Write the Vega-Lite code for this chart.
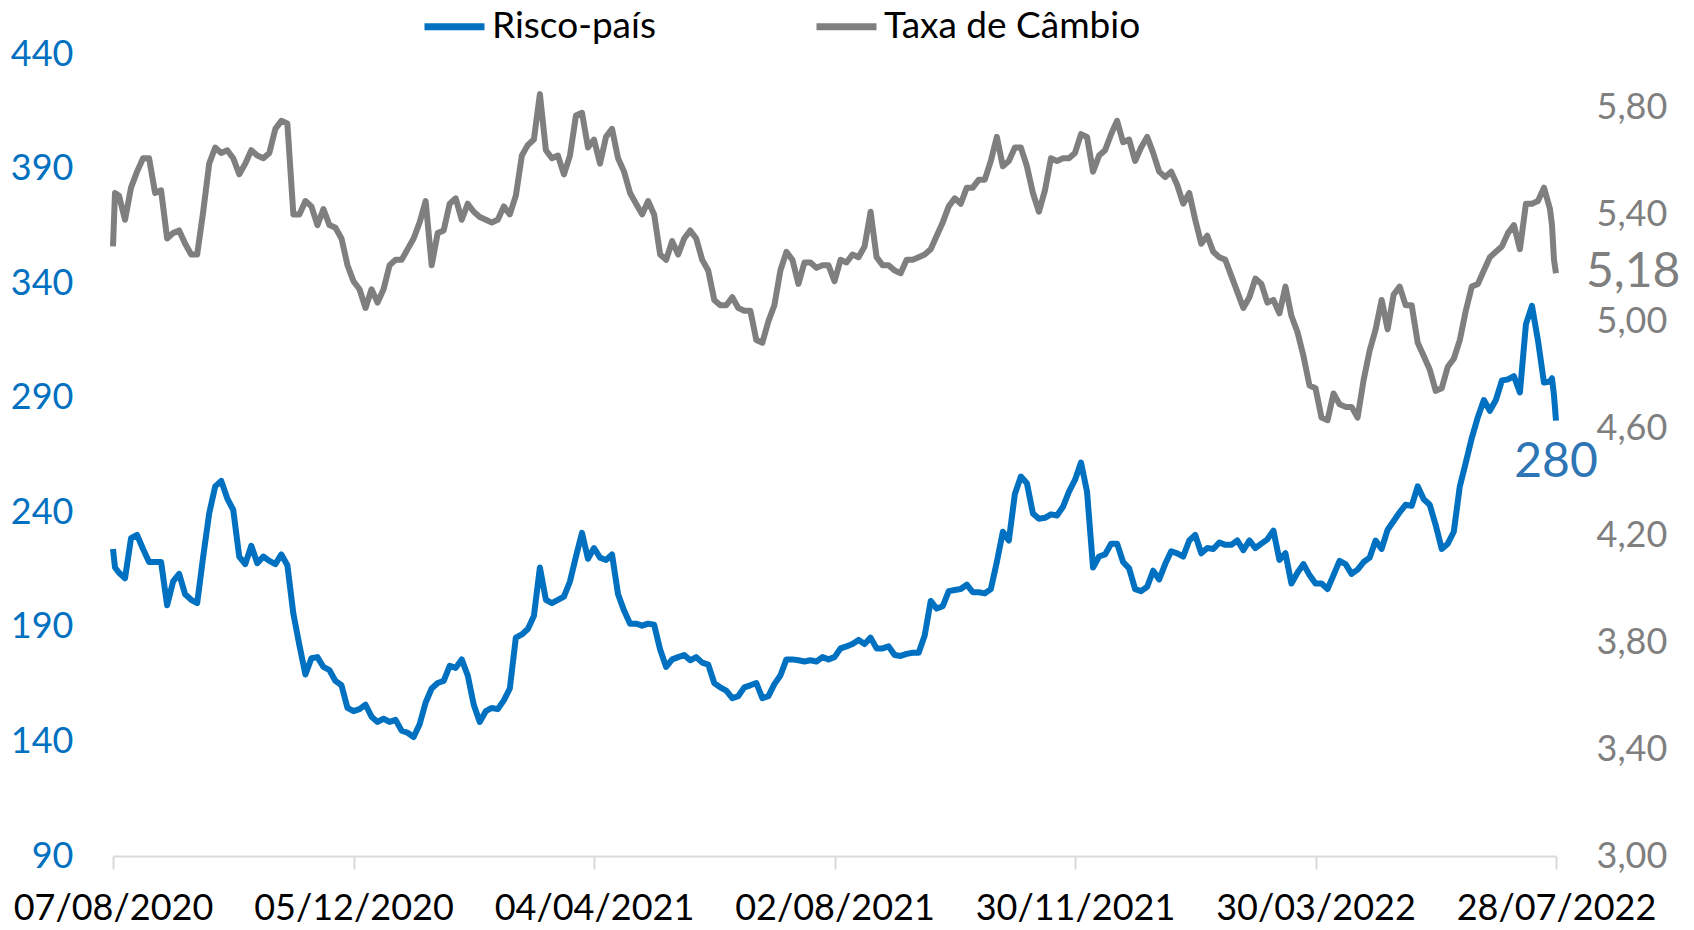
{
  "$schema": "https://vega.github.io/schema/vega-lite/v6.json",
  "width": 1443,
  "height": 802,
  "autosize": {"type": "none"},
  "padding": {"left": 113, "top": 54, "right": 138, "bottom": 74},
  "background": "white",
  "config": {
    "view": {"stroke": null},
    "font": "Lato",
    "locale": {"number": {"decimal": ",", "thousands": ".", "grouping": [3], "currency": ["R$", ""]}},
    "axis": {"grid": false, "title": null, "labelLimit": 0}
  },
  "data": {"values": [
    {"d":"2020-08-07","r":224.0,"c":5.28},
    {"d":"2020-08-08","r":215.9,"c":5.48},
    {"d":"2020-08-10","r":213.6,"c":5.47},
    {"d":"2020-08-13","r":211.2,"c":5.38},
    {"d":"2020-08-16","r":228.7,"c":5.50},
    {"d":"2020-08-19","r":230.1,"c":5.56},
    {"d":"2020-08-22","r":224.0,"c":5.61},
    {"d":"2020-08-25","r":218.3,"c":5.61},
    {"d":"2020-08-28","r":218.3,"c":5.48},
    {"d":"2020-08-31","r":218.3,"c":5.49},
    {"d":"2020-09-03","r":199.4,"c":5.31},
    {"d":"2020-09-06","r":209.8,"c":5.33},
    {"d":"2020-09-09","r":213.1,"c":5.34},
    {"d":"2020-09-12","r":204.2,"c":5.29},
    {"d":"2020-09-15","r":201.8,"c":5.25},
    {"d":"2020-09-18","r":200.4,"c":5.25},
    {"d":"2020-09-21","r":220.7,"c":5.41},
    {"d":"2020-09-24","r":239.5,"c":5.59},
    {"d":"2020-09-27","r":251.3,"c":5.65},
    {"d":"2020-09-30","r":253.7,"c":5.63},
    {"d":"2020-10-03","r":246.1,"c":5.64},
    {"d":"2020-10-06","r":241.0,"c":5.61},
    {"d":"2020-10-09","r":220.7,"c":5.55},
    {"d":"2020-10-12","r":217.4,"c":5.59},
    {"d":"2020-10-15","r":225.4,"c":5.64},
    {"d":"2020-10-18","r":217.8,"c":5.62},
    {"d":"2020-10-21","r":220.7,"c":5.61},
    {"d":"2020-10-24","r":218.8,"c":5.63},
    {"d":"2020-10-27","r":217.4,"c":5.72},
    {"d":"2020-10-30","r":221.6,"c":5.75},
    {"d":"2020-11-02","r":216.9,"c":5.74},
    {"d":"2020-11-05","r":195.7,"c":5.40},
    {"d":"2020-11-08","r":182.0,"c":5.40},
    {"d":"2020-11-11","r":169.2,"c":5.45},
    {"d":"2020-11-14","r":176.3,"c":5.43},
    {"d":"2020-11-17","r":176.8,"c":5.36},
    {"d":"2020-11-20","r":172.5,"c":5.42},
    {"d":"2020-11-23","r":171.1,"c":5.36},
    {"d":"2020-11-26","r":166.4,"c":5.35},
    {"d":"2020-11-29","r":164.5,"c":5.31},
    {"d":"2020-12-02","r":154.6,"c":5.21},
    {"d":"2020-12-05","r":153.2,"c":5.15},
    {"d":"2020-12-08","r":154.1,"c":5.12},
    {"d":"2020-12-11","r":156.0,"c":5.05},
    {"d":"2020-12-14","r":150.8,"c":5.12},
    {"d":"2020-12-17","r":148.5,"c":5.07},
    {"d":"2020-12-20","r":149.9,"c":5.12},
    {"d":"2020-12-23","r":148.5,"c":5.21},
    {"d":"2020-12-26","r":149.4,"c":5.23},
    {"d":"2020-12-29","r":144.7,"c":5.23},
    {"d":"2021-01-01","r":143.8,"c":5.27},
    {"d":"2021-01-04","r":141.9,"c":5.31},
    {"d":"2021-01-07","r":147.5,"c":5.37},
    {"d":"2021-01-10","r":157.0,"c":5.45},
    {"d":"2021-01-13","r":163.1,"c":5.21},
    {"d":"2021-01-16","r":165.5,"c":5.33},
    {"d":"2021-01-19","r":166.4,"c":5.34},
    {"d":"2021-01-22","r":173.0,"c":5.44},
    {"d":"2021-01-25","r":172.1,"c":5.46},
    {"d":"2021-01-28","r":175.8,"c":5.38},
    {"d":"2021-01-31","r":168.8,"c":5.44},
    {"d":"2021-02-03","r":156.0,"c":5.41},
    {"d":"2021-02-06","r":148.5,"c":5.39},
    {"d":"2021-02-09","r":153.2,"c":5.38},
    {"d":"2021-02-12","r":154.6,"c":5.37},
    {"d":"2021-02-15","r":154.1,"c":5.38},
    {"d":"2021-02-18","r":157.9,"c":5.43},
    {"d":"2021-02-21","r":163.1,"c":5.40},
    {"d":"2021-02-24","r":185.3,"c":5.47},
    {"d":"2021-02-27","r":186.7,"c":5.62},
    {"d":"2021-03-02","r":189.1,"c":5.66},
    {"d":"2021-03-05","r":194.7,"c":5.68},
    {"d":"2021-03-08","r":215.9,"c":5.85},
    {"d":"2021-03-11","r":201.8,"c":5.64},
    {"d":"2021-03-14","r":200.4,"c":5.61},
    {"d":"2021-03-17","r":201.8,"c":5.62},
    {"d":"2021-03-20","r":203.2,"c":5.55},
    {"d":"2021-03-23","r":209.8,"c":5.62},
    {"d":"2021-03-26","r":220.7,"c":5.77},
    {"d":"2021-03-29","r":231.0,"c":5.78},
    {"d":"2021-04-01","r":219.7,"c":5.65},
    {"d":"2021-04-04","r":224.4,"c":5.68},
    {"d":"2021-04-07","r":220.2,"c":5.59},
    {"d":"2021-04-10","r":219.2,"c":5.69},
    {"d":"2021-04-13","r":221.6,"c":5.72},
    {"d":"2021-04-16","r":204.2,"c":5.61},
    {"d":"2021-04-19","r":197.1,"c":5.56},
    {"d":"2021-04-22","r":191.4,"c":5.48},
    {"d":"2021-04-25","r":191.4,"c":5.44},
    {"d":"2021-04-28","r":190.5,"c":5.40},
    {"d":"2021-05-01","r":191.4,"c":5.45},
    {"d":"2021-05-04","r":190.9,"c":5.40},
    {"d":"2021-05-07","r":180.1,"c":5.25},
    {"d":"2021-05-10","r":172.5,"c":5.23},
    {"d":"2021-05-13","r":175.8,"c":5.30},
    {"d":"2021-05-16","r":176.8,"c":5.25},
    {"d":"2021-05-19","r":177.7,"c":5.31},
    {"d":"2021-05-22","r":175.4,"c":5.34},
    {"d":"2021-05-25","r":176.8,"c":5.31},
    {"d":"2021-05-28","r":174.4,"c":5.23},
    {"d":"2021-05-31","r":173.5,"c":5.19},
    {"d":"2021-06-03","r":165.5,"c":5.08},
    {"d":"2021-06-06","r":163.6,"c":5.06},
    {"d":"2021-06-09","r":162.2,"c":5.06},
    {"d":"2021-06-12","r":158.9,"c":5.09},
    {"d":"2021-06-15","r":159.8,"c":5.05},
    {"d":"2021-06-18","r":163.6,"c":5.04},
    {"d":"2021-06-21","r":164.5,"c":5.04},
    {"d":"2021-06-24","r":165.5,"c":4.93},
    {"d":"2021-06-27","r":158.9,"c":4.92},
    {"d":"2021-06-30","r":159.8,"c":5.00},
    {"d":"2021-07-03","r":165.0,"c":5.06},
    {"d":"2021-07-06","r":168.8,"c":5.19},
    {"d":"2021-07-09","r":175.8,"c":5.26},
    {"d":"2021-07-12","r":175.8,"c":5.23},
    {"d":"2021-07-15","r":175.4,"c":5.14},
    {"d":"2021-07-18","r":174.9,"c":5.22},
    {"d":"2021-07-21","r":175.4,"c":5.22},
    {"d":"2021-07-24","r":174.9,"c":5.20},
    {"d":"2021-07-27","r":176.8,"c":5.21},
    {"d":"2021-07-30","r":175.8,"c":5.21},
    {"d":"2021-08-02","r":176.8,"c":5.15},
    {"d":"2021-08-05","r":180.6,"c":5.23},
    {"d":"2021-08-08","r":181.5,"c":5.22},
    {"d":"2021-08-11","r":182.5,"c":5.25},
    {"d":"2021-08-14","r":184.3,"c":5.24},
    {"d":"2021-08-17","r":182.5,"c":5.28},
    {"d":"2021-08-20","r":185.3,"c":5.41},
    {"d":"2021-08-23","r":180.6,"c":5.24},
    {"d":"2021-08-26","r":180.6,"c":5.21},
    {"d":"2021-08-29","r":181.5,"c":5.21},
    {"d":"2021-09-01","r":177.7,"c":5.19},
    {"d":"2021-09-04","r":177.3,"c":5.18},
    {"d":"2021-09-07","r":178.2,"c":5.23},
    {"d":"2021-09-10","r":178.7,"c":5.23},
    {"d":"2021-09-13","r":178.7,"c":5.24},
    {"d":"2021-09-16","r":186.2,"c":5.25},
    {"d":"2021-09-19","r":201.3,"c":5.27},
    {"d":"2021-09-22","r":198.0,"c":5.32},
    {"d":"2021-09-25","r":199.0,"c":5.37},
    {"d":"2021-09-28","r":205.6,"c":5.43},
    {"d":"2021-10-01","r":206.1,"c":5.46},
    {"d":"2021-10-04","r":206.5,"c":5.44},
    {"d":"2021-10-07","r":208.4,"c":5.50},
    {"d":"2021-10-10","r":205.1,"c":5.50},
    {"d":"2021-10-13","r":205.1,"c":5.53},
    {"d":"2021-10-16","r":204.6,"c":5.53},
    {"d":"2021-10-19","r":206.5,"c":5.60},
    {"d":"2021-10-22","r":218.3,"c":5.69},
    {"d":"2021-10-25","r":231.5,"c":5.58},
    {"d":"2021-10-28","r":227.7,"c":5.60},
    {"d":"2021-10-31","r":248.0,"c":5.65},
    {"d":"2021-11-03","r":255.6,"c":5.65},
    {"d":"2021-11-06","r":252.7,"c":5.58},
    {"d":"2021-11-09","r":239.5,"c":5.48},
    {"d":"2021-11-12","r":237.2,"c":5.41},
    {"d":"2021-11-15","r":237.6,"c":5.49},
    {"d":"2021-11-18","r":239.1,"c":5.61},
    {"d":"2021-11-21","r":238.6,"c":5.60},
    {"d":"2021-11-24","r":242.4,"c":5.61},
    {"d":"2021-11-27","r":249.0,"c":5.61},
    {"d":"2021-11-30","r":254.1,"c":5.63},
    {"d":"2021-12-03","r":261.7,"c":5.70},
    {"d":"2021-12-06","r":249.0,"c":5.69},
    {"d":"2021-12-09","r":215.9,"c":5.56},
    {"d":"2021-12-12","r":220.7,"c":5.62},
    {"d":"2021-12-15","r":221.6,"c":5.64},
    {"d":"2021-12-18","r":226.3,"c":5.70},
    {"d":"2021-12-21","r":226.3,"c":5.75},
    {"d":"2021-12-24","r":218.3,"c":5.67},
    {"d":"2021-12-27","r":215.5,"c":5.68},
    {"d":"2021-12-30","r":206.5,"c":5.60},
    {"d":"2022-01-02","r":205.6,"c":5.65},
    {"d":"2022-01-05","r":207.5,"c":5.69},
    {"d":"2022-01-08","r":214.5,"c":5.63},
    {"d":"2022-01-11","r":210.7,"c":5.56},
    {"d":"2022-01-14","r":217.4,"c":5.54},
    {"d":"2022-01-17","r":223.0,"c":5.56},
    {"d":"2022-01-20","r":222.1,"c":5.51},
    {"d":"2022-01-23","r":220.7,"c":5.44},
    {"d":"2022-01-26","r":227.7,"c":5.48},
    {"d":"2022-01-29","r":230.1,"c":5.38},
    {"d":"2022-02-01","r":222.1,"c":5.29},
    {"d":"2022-02-04","r":224.4,"c":5.32},
    {"d":"2022-02-07","r":224.0,"c":5.26},
    {"d":"2022-02-10","r":226.8,"c":5.24},
    {"d":"2022-02-13","r":225.8,"c":5.23},
    {"d":"2022-02-16","r":225.8,"c":5.17},
    {"d":"2022-02-19","r":227.7,"c":5.11},
    {"d":"2022-02-22","r":223.5,"c":5.05},
    {"d":"2022-02-25","r":227.7,"c":5.09},
    {"d":"2022-02-28","r":224.4,"c":5.16},
    {"d":"2022-03-03","r":226.3,"c":5.14},
    {"d":"2022-03-06","r":228.2,"c":5.07},
    {"d":"2022-03-09","r":232.0,"c":5.08},
    {"d":"2022-03-12","r":219.2,"c":5.03},
    {"d":"2022-03-15","r":222.1,"c":5.13},
    {"d":"2022-03-18","r":208.9,"c":5.02},
    {"d":"2022-03-21","r":213.6,"c":4.96},
    {"d":"2022-03-24","r":217.4,"c":4.87},
    {"d":"2022-03-27","r":212.6,"c":4.76},
    {"d":"2022-03-30","r":208.9,"c":4.75},
    {"d":"2022-04-02","r":208.9,"c":4.64},
    {"d":"2022-04-05","r":206.5,"c":4.63},
    {"d":"2022-04-08","r":212.6,"c":4.73},
    {"d":"2022-04-11","r":218.8,"c":4.69},
    {"d":"2022-04-14","r":217.4,"c":4.68},
    {"d":"2022-04-17","r":213.1,"c":4.68},
    {"d":"2022-04-20","r":215.0,"c":4.64},
    {"d":"2022-04-23","r":218.3,"c":4.78},
    {"d":"2022-04-26","r":220.2,"c":4.89},
    {"d":"2022-04-29","r":227.7,"c":4.97},
    {"d":"2022-05-02","r":224.0,"c":5.08},
    {"d":"2022-05-05","r":232.4,"c":4.97},
    {"d":"2022-05-08","r":236.2,"c":5.10},
    {"d":"2022-05-11","r":240.0,"c":5.13},
    {"d":"2022-05-14","r":243.3,"c":5.06},
    {"d":"2022-05-17","r":242.8,"c":5.06},
    {"d":"2022-05-20","r":251.3,"c":4.92},
    {"d":"2022-05-23","r":245.7,"c":4.87},
    {"d":"2022-05-26","r":243.3,"c":4.82},
    {"d":"2022-05-29","r":234.3,"c":4.74},
    {"d":"2022-06-01","r":224.0,"c":4.75},
    {"d":"2022-06-04","r":226.3,"c":4.83},
    {"d":"2022-06-07","r":231.5,"c":4.86},
    {"d":"2022-06-10","r":251.3,"c":4.93},
    {"d":"2022-06-13","r":261.7,"c":5.04},
    {"d":"2022-06-16","r":272.5,"c":5.13},
    {"d":"2022-06-19","r":281.5,"c":5.14},
    {"d":"2022-06-22","r":289.0,"c":5.19},
    {"d":"2022-06-25","r":284.3,"c":5.24},
    {"d":"2022-06-28","r":289.0,"c":5.26},
    {"d":"2022-07-01","r":297.5,"c":5.28},
    {"d":"2022-07-04","r":298.0,"c":5.33},
    {"d":"2022-07-07","r":299.4,"c":5.36},
    {"d":"2022-07-10","r":292.3,"c":5.27},
    {"d":"2022-07-13","r":322.1,"c":5.44},
    {"d":"2022-07-16","r":330.1,"c":5.44},
    {"d":"2022-07-19","r":315.0,"c":5.45},
    {"d":"2022-07-22","r":296.6,"c":5.50},
    {"d":"2022-07-25","r":297.1,"c":5.42},
    {"d":"2022-07-26","r":298.5,"c":5.36},
    {"d":"2022-07-27","r":291.0,"c":5.23},
    {"d":"2022-07-28","r":280.0,"c":5.18}
  ]},
  "layer": [
    {
      "encoding": {
        "x": {"field": "d", "type": "temporal",
          "scale": {"type": "utc", "domain": [{"year": 2020, "month": 8, "date": 7, "utc": true}, {"year": 2022, "month": 7, "date": 28, "utc": true}]},
          "axis": {"values": [
              {"year": 2020, "month": 8, "date": 7, "utc": true},
              {"year": 2020, "month": 12, "date": 5, "utc": true},
              {"year": 2021, "month": 4, "date": 4, "utc": true},
              {"year": 2021, "month": 8, "date": 2, "utc": true},
              {"year": 2021, "month": 11, "date": 30, "utc": true},
              {"year": 2022, "month": 3, "date": 30, "utc": true},
              {"year": 2022, "month": 7, "date": 28, "utc": true}],
            "format": "%d/%m/%Y", "labelFontSize": 36, "labelColor": "#000000", "labelPadding": 22, "labelLimit": 0,
            "labelOverlap": false, "labelFlush": false, "domainColor": "#D9D9D9", "domainWidth": 2,
            "tickColor": "#D9D9D9", "tickWidth": 2, "tickSize": 13, "title": null}},
        "y": {"field": "c", "type": "quantitative",
          "scale": {"domain": [3, 6], "nice": false, "zero": false},
          "axis": {"orient": "right", "values": [3, 3.4, 3.8, 4.2, 4.6, 5, 5.4, 5.8], "format": ".2f",
            "labelFontSize": 36, "labelColor": "#7F7F7F", "labelPadding": 40, "domain": false, "ticks": false, "title": null}}
      },
      "layer": [
        {"mark": {"type": "line", "strokeWidth": 6, "strokeJoin": "round"},
         "encoding": {"color": {"datum": "Taxa de Câmbio",
           "scale": {"domain": ["Risco-país", "Taxa de Câmbio"], "range": ["#0070C0", "#7F7F7F"]},
           "legend": {"orient": "none", "legendX": 308, "legendY": -61, "direction": "horizontal", "title": null,
             "symbolType": "stroke", "symbolStrokeWidth": 7, "symbolSize": 3600, "labelFontSize": 37, "labelLimit": 0,
             "labelColor": "#000000", "columnPadding": 146, "labelOffset": 4, "padding": 0}}}},
        {"transform": [{"filter": {"field": "d", "equal": {"year": 2022, "month": 7, "date": 28, "utc": true}}}],
         "mark": {"type": "text", "align": "left", "baseline": "middle", "dx": 30, "fontSize": 48, "color": "#7F7F7F"},
         "encoding": {"text": {"field": "c", "type": "quantitative", "format": ".2f"}}}
      ]
    },
    {
      "encoding": {
        "x": {"field": "d", "type": "temporal",
          "scale": {"type": "utc", "domain": [{"year": 2020, "month": 8, "date": 7, "utc": true}, {"year": 2022, "month": 7, "date": 28, "utc": true}]},
          "axis": {"values": [
              {"year": 2020, "month": 8, "date": 7, "utc": true},
              {"year": 2020, "month": 12, "date": 5, "utc": true},
              {"year": 2021, "month": 4, "date": 4, "utc": true},
              {"year": 2021, "month": 8, "date": 2, "utc": true},
              {"year": 2021, "month": 11, "date": 30, "utc": true},
              {"year": 2022, "month": 3, "date": 30, "utc": true},
              {"year": 2022, "month": 7, "date": 28, "utc": true}],
            "format": "%d/%m/%Y", "labelFontSize": 36, "labelColor": "#000000", "labelPadding": 22, "labelLimit": 0,
            "labelOverlap": false, "labelFlush": false, "domainColor": "#D9D9D9", "domainWidth": 2,
            "tickColor": "#D9D9D9", "tickWidth": 2, "tickSize": 13, "title": null}},
        "y": {"field": "r", "type": "quantitative",
          "scale": {"domain": [90, 440], "nice": false, "zero": false},
          "axis": {"orient": "left", "values": [90, 140, 190, 240, 290, 340, 390, 440],
            "labelFontSize": 36, "labelColor": "#0070C0", "labelPadding": 40, "domain": false, "ticks": false, "title": null}}
      },
      "layer": [
        {"mark": {"type": "line", "strokeWidth": 6, "strokeJoin": "round"},
         "encoding": {"color": {"datum": "Risco-país"}}},
        {"transform": [{"filter": {"field": "d", "equal": {"year": 2022, "month": 7, "date": 28, "utc": true}}}],
         "mark": {"type": "text", "align": "center", "baseline": "middle", "dy": 42, "fontSize": 48, "color": "#2E75B6"},
         "encoding": {"text": {"field": "r", "type": "quantitative", "format": ".0f"}}}
      ]
    }
  ],
  "resolve": {"scale": {"y": "independent"}}
}
